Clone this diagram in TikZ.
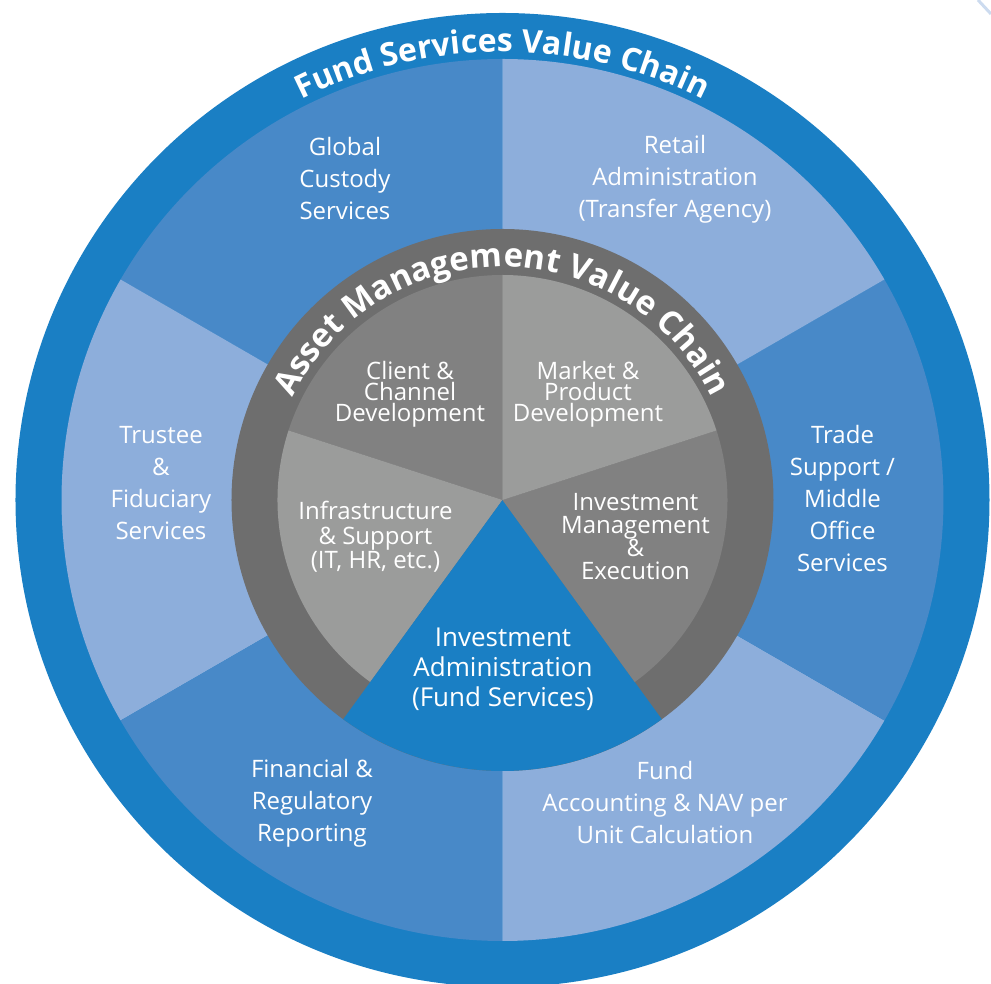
\documentclass[tikz,border=0pt]{standalone}
\usepackage{fontspec}
\setmainfont{Open Sans}
\usetikzlibrary{decorations.text}
\definecolor{ringblue}{HTML}{1A7FC4}
\definecolor{darkblue}{HTML}{4889C8}
\definecolor{lightblue}{HTML}{8DAEDB}
\definecolor{ringgray}{HTML}{6E6E6E}
\definecolor{midgray}{HTML}{818181}
\definecolor{lightgray}{HTML}{9B9C9B}
\newcommand{\tightskip}{\lineskiplimit=-20pt\relax}
\begin{document}
\begin{tikzpicture}[x=1pt,y=1pt,
        outerlabel/.style={text=white,align=center,font=\fontsize{24}{32}\selectfont},
        innerlabel/.style={text=white,align=center,font=\fontsize{24}{21}\selectfont\tightskip},
        adminlabel/.style={text=white,align=center,font=\fontsize{26}{30}\selectfont\tightskip}]
        \useasboundingbox (-502.5,-484) rectangle (488.5,500);
        \draw[color=lightblue!45!white,line width=3pt] (475.5,500) -- (488.5,486);
        % outer ring and the six services
        \fill[ringblue] (0,0) circle (487);
        \fill[darkblue] (0,0) -- (90:441) arc[start angle=90,end angle=150,radius=441] -- cycle;
        \fill[lightblue] (0,0) -- (150:441) arc[start angle=150,end angle=210,radius=441] -- cycle;
        \fill[darkblue] (0,0) -- (210:441) arc[start angle=210,end angle=270,radius=441] -- cycle;
        \fill[lightblue] (0,0) -- (270:441) arc[start angle=270,end angle=330,radius=441] -- cycle;
        \fill[darkblue] (0,0) -- (-30:441) arc[start angle=-30,end angle=30,radius=441] -- cycle;
        \fill[lightblue] (0,0) -- (30:441) arc[start angle=30,end angle=90,radius=441] -- cycle;
        % asset management ring
        \fill[ringgray] (0,0) circle (271);
        \fill[midgray] (0,0) -- (90:225) arc[start angle=90,end angle=162,radius=225] -- cycle;
        \fill[lightgray] (0,0) -- (162:225) arc[start angle=162,end angle=234,radius=225] -- cycle;
        \fill[ringblue] (0,0) -- (234:271) arc[start angle=234,end angle=306,radius=271] -- cycle;
        \fill[midgray] (0,0) -- (-54:225) arc[start angle=-54,end angle=18,radius=225] -- cycle;
        \fill[lightgray] (0,0) -- (18:225) arc[start angle=18,end angle=90,radius=225] -- cycle;
        % ring titles
        \path[decorate,decoration={text along path,text color=white,text align=center,
                text={|\fontsize{32}{32}\selectfont\bfseries|Fund Services Value Chain}}]
                (130:448) arc[start angle=130,end angle=50,radius=448];
        \path[decorate,decoration={text along path,text color=white,text align=center,
                text={|\fontsize{33}{33}\selectfont\bfseries|Asset Management Value Chain}}]
                (165:233) arc[start angle=165,end angle=15,radius=233];
        % labels
        \node[outerlabel] (custody) at (-157.5,321) {Global\\Custody\\Services};
        \node[outerlabel] (retail) at (172.5,321) {Retail\\Administration\\(Transfer Agency)};
        \node[outerlabel] (trustee) at (-341.5,17) {Trustee\\\&\\Fiduciary\\Services};
        \node[outerlabel] (trade) at (340,1) {Trade\\Support /\\Middle\\Office\\Services};
        \node[outerlabel] (reporting) at (-190.5,-303) {Financial \&\\Regulatory\\Reporting};
        \node[outerlabel] (accounting) at (162.5,-303) {Fund\\Accounting \& NAV per\\Unit Calculation};
        \node[innerlabel] (client) at (-92.5,106) {Client \&\\Channel\\Development};
        \node[innerlabel] (market) at (85.5,106) {Market \&\\Product\\Development};
        \node[innerlabel,font=\fontsize{24}{24.5}\selectfont\tightskip] (infra) at (-127,-37) {Infrastructure\\\& Support\\(IT, HR, etc.)};
        \node[innerlabel,font=\fontsize{24}{23}\selectfont\tightskip] (invmgmt) at (133,-37) {Investment\\Management\\\&\\Execution};
        \node[adminlabel] (invadmin) at (0.5,-169) {Investment\\Administration\\(Fund Services)};
        \end{tikzpicture}
\end{document}
